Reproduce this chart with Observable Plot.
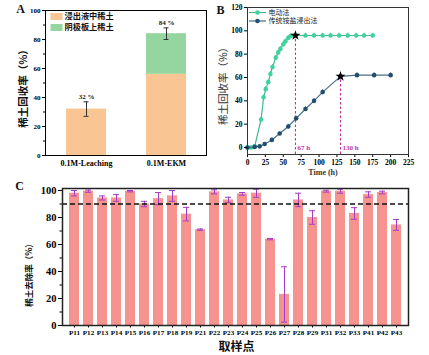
<!DOCTYPE html>
<html><head><meta charset="utf-8">
<script src="https://cdn.jsdelivr.net/npm/d3@7"></script>
<script src="https://cdn.jsdelivr.net/npm/@observablehq/plot@0.6"></script>
<style>
body{margin:0;background:#fff;}
#wrap{position:relative;width:429px;height:355px;overflow:hidden;background:#fff;}
</style></head><body><div id="wrap"></div>
<script>
// ---------- Panel A data ----------
const aCats = ["0.1M-Leaching", "0.1M-EKM"];
const aSeries = ["浸出液中稀土", "阴极板上稀土"];
const aLeachate = [32, 56];
const aCathode = [0, 28];
const aTotal = [32, 84];
const aErr = [5, 4];
const aTotalLabels = ["32 %", "84 %"];
const aTicks = [0, 20, 40, 60, 80, 100];
const aMinorTicks = [10, 30, 50, 70, 90];

// ---------- Panel B data ----------
const bSeries = ["电动法", "传统铵盐浸出法"];
const bEkTime = [0, 5, 10, 19, 22.5, 25.5, 29, 32, 35, 39.5, 43, 46, 50, 53, 57, 60.5, 67, 81, 93, 105, 116, 128, 140, 152, 163, 175];
const bEkRate = [0, 0, 1, 24, 43, 50, 56, 63, 69, 77, 81.5, 84.5, 88.5, 91, 94, 95.5, 96, 96, 96, 96, 96, 96, 96, 96, 96, 96];
const bEkErr  = [1, 1, 1, 2, 2, 2, 2, 2, 2, 2, 2, 2, 2, 2, 2, 2, 1, 2, 2, 2, 2, 2, 2, 2, 2, 2];
const bTrTime = [0, 10, 17, 24, 34, 45, 57, 68, 81, 93, 105, 130, 153, 177, 200];
const bTrRate = [0, 0.5, 1, 3, 6.5, 12, 18, 25, 33, 40, 47.5, 61, 62, 62, 62];
const bTrErr  = [1, 1, 1, 1, 1.5, 1.5, 2, 2, 2, 2, 2, 1, 2, 2, 2];
const bMarkTime = [67, 130];
const bMarkRate = [96, 61];
const bMarkLabels = ["67 h", "130 h"];
const bXTicks = [0, 25, 50, 75, 100, 125, 150, 175, 200, 225];
const bYTicks = [0, 20, 40, 60, 80, 100, 120];
const bYDomain = [-6, 120];

// ---------- Panel C data ----------
const cSites = ["P11","P12","P13","P14","P15","P16","P17","P18","P19","P21","P22","P23","P24","P25","P26","P27","P28","P29","P31","P32","P33","P41","P42","P43"];
const cRate = [98, 99.5, 94.5, 94.5, 99.5, 90, 94, 96, 82.5, 71, 99, 93, 97.5, 98, 64, 23, 93, 80, 99.5, 99.5, 83, 97, 98.5, 74.5];
const cErr  = [2, 0.8, 1.5, 2.5, 0.5, 2, 4.5, 4, 5, 0.5, 1.5, 2, 1, 3, 0.5, 20.5, 5, 5, 0.7, 1.5, 4.3, 2, 1, 4];
const cThreshold = 90;
const cTicks = [0, 20, 40, 60, 80, 100];
const cMinorTicks = [10, 30, 50, 70, 90];

const SERIF = "'Liberation Serif', 'DejaVu Serif', serif";
const CJK = "'Noto Sans CJK SC', 'Noto Sans', sans-serif";
const wrap = document.getElementById("wrap");
function place(svg, left, top) {
  svg.style.position = "absolute";
  svg.style.left = left + "px";
  svg.style.top = top + "px";
  wrap.appendChild(svg);
}
const baseStyle = {fontFamily: SERIF, fontSize: "8px", fontWeight: "bold", color: "black", background: "transparent", overflow: "visible"};
const rectSym = (w, h) => ({draw(ctx) { ctx.rect(-w / 2, -h / 2, w, h); }});
const hlineSym = (w) => ({draw(ctx) { ctx.moveTo(-w / 2, 0); ctx.lineTo(w / 2, 0); }});
const mid = {textAnchor: "middle", lineAnchor: "middle"};

// ---------- Panel A ----------
{
  const aColors = ["#f9c592", "#95d59f"];
  const rows = aCats.flatMap((c, i) => [
    {cat: c, series: aSeries[0], y1: 0, y2: aLeachate[i]},
    {cat: c, series: aSeries[1], y1: aLeachate[i], y2: aLeachate[i] + aCathode[i]}
  ]);
  const err = aCats.map((c, i) => ({cat: c, lo: aTotal[i] - aErr[i], hi: aTotal[i] + aErr[i], label: aTotalLabels[i]}));
  const svg = Plot.plot({
    width: 215, height: 175,
    marginLeft: 45, marginRight: 9, marginTop: 10, marginBottom: 20,
    style: baseStyle,
    x: {domain: aCats, paddingInner: 0.5, paddingOuter: 0.25, label: null},
    y: {domain: [0, 100], label: null},
    color: {domain: aSeries, range: aColors},
    marks: [
      Plot.barY(rows, {x: "cat", y1: "y1", y2: "y2", fill: "series"}),
      Plot.ruleX(err, {x: "cat", y1: "lo", y2: "hi", stroke: "#333", strokeWidth: 1}),
      Plot.tickY(err, {x: "cat", y: "lo", insetLeft: 17.5, insetRight: 17.5, stroke: "#333"}),
      Plot.tickY(err, {x: "cat", y: "hi", insetLeft: 17.5, insetRight: 17.5, stroke: "#333"}),
      Plot.text(err, {x: "cat", y: "hi", text: "label", dy: -5.5, fontSize: 7, fontFamily: SERIF, fontWeight: "bold", fill: "#222"}),
      Plot.axisY({ticks: aTicks, tickSize: 3, tickPadding: 2, fontSize: 7, label: null}),
      Plot.axisY({ticks: aMinorTicks, tickSize: 2, tickFormat: () => "", label: null}),
      Plot.axisX({tickSize: 0, tickPadding: 5, fontSize: 8, label: null}),
      Plot.frame({stroke: "black", strokeWidth: 1}),
      // legend
      Plot.dot(aSeries, {frameAnchor: "top-left", dx: 11, dy: 6, filter: (d, i) => i === 0, symbol: rectSym(12, 7), fill: aColors[0], stroke: "none"}),
      Plot.dot(aSeries, {frameAnchor: "top-left", dx: 11, dy: 17, filter: (d, i) => i === 1, symbol: rectSym(12, 7), fill: aColors[1], stroke: "none"}),
      Plot.text(aSeries, {frameAnchor: "top-left", dx: 19, dy: 6, filter: (d, i) => i === 0, text: d => d, textAnchor: "start", lineAnchor: "middle", fontFamily: CJK, fontWeight: "bold", fontSize: 8.2, fill: "#111"}),
      Plot.text(aSeries, {frameAnchor: "top-left", dx: 19, dy: 17, filter: (d, i) => i === 1, text: d => d, textAnchor: "start", lineAnchor: "middle", fontFamily: CJK, fontWeight: "bold", fontSize: 8.2, fill: "#111"}),
      // axis title and panel letter
      Plot.text(["稀土回收率（%）"], {frameAnchor: "left", dx: -22, dy: 3, rotate: -90, ...mid, text: d => d, fontFamily: CJK, fontWeight: "bold", fontSize: 10.5, fill: "#111"}),
      Plot.text(["A"], {frameAnchor: "top-left", dx: -25, dy: -1, ...mid, text: d => d, fontFamily: SERIF, fontWeight: "bold", fontSize: 12, fill: "#111"})
    ]
  });
  place(svg, 0, 0);
}

// ---------- Panel B ----------
{
  const ek = bEkTime.map((t, i) => ({t, v: bEkRate[i], e: bEkErr[i]}));
  const tr = bTrTime.map((t, i) => ({t, v: bTrRate[i], e: bTrErr[i]}));
  const marks = bMarkTime.map((t, i) => ({t, v: bMarkRate[i], label: bMarkLabels[i]}));
  const gLine = "#45b98d", gDot = "#3ed39d", tLine = "#47718c", tDot = "#234f6e", mag = "#c0369f";
  const svg = Plot.plot({
    width: 214, height: 180,
    marginLeft: 32, marginRight: 21, marginTop: 7, marginBottom: 26,
    style: baseStyle,
    x: {domain: [0, 225], label: null},
    y: {domain: bYDomain, label: null},
    marks: [
      Plot.ruleX(marks, {x: "t", y1: bYDomain[0], y2: "v", stroke: mag, strokeWidth: 1.1, strokeDasharray: "2.5,2"}),
      Plot.ruleX(ek, {x: "t", y1: d => d.v - d.e, y2: d => d.v + d.e, stroke: gLine, strokeWidth: 1}),
      Plot.line(ek, {x: "t", y: "v", stroke: gLine, strokeWidth: 1.2}),
      Plot.dot(ek, {x: "t", y: "v", r: 2.3, fill: gDot, stroke: "none"}),
      Plot.ruleX(tr, {x: "t", y1: d => d.v - d.e, y2: d => d.v + d.e, stroke: tLine, strokeWidth: 1}),
      Plot.line(tr, {x: "t", y: "v", stroke: tLine, strokeWidth: 1.2}),
      Plot.dot(tr, {x: "t", y: "v", r: 2.3, fill: tDot, stroke: "none"}),
      Plot.dot(marks, {x: "t", y: "v", symbol: "star", r: 3.2, fill: "black", stroke: "none"}),
      Plot.text(marks, {x: "t", y: 0, text: "label", dx: 2, textAnchor: "start", fill: mag, fontSize: 7, fontFamily: SERIF, fontWeight: "bold"}),
      Plot.axisX({ticks: bXTicks, tickSize: 3, tickPadding: 2, fontSize: 7.5, label: null}),
      Plot.axisY({ticks: bYTicks, tickSize: 3, tickPadding: 2, fontSize: 7.5, label: null}),
      Plot.frame({stroke: "#333", strokeWidth: 1}),
      // legend
      Plot.dot(bSeries, {frameAnchor: "top-left", dx: 10, dy: 5, filter: (d, i) => i === 0, symbol: hlineSym(17), fill: "none", stroke: gLine, strokeWidth: 1.2}),
      Plot.dot(bSeries, {frameAnchor: "top-left", dx: 10, dy: 5, filter: (d, i) => i === 0, r: 2.3, fill: gDot, stroke: "none"}),
      Plot.dot(bSeries, {frameAnchor: "top-left", dx: 10, dy: 13.5, filter: (d, i) => i === 1, symbol: hlineSym(17), fill: "none", stroke: tLine, strokeWidth: 1.2}),
      Plot.dot(bSeries, {frameAnchor: "top-left", dx: 10, dy: 13.5, filter: (d, i) => i === 1, r: 2.3, fill: tDot, stroke: "none"}),
      Plot.text(bSeries, {frameAnchor: "top-left", dx: 21, dy: 5, filter: (d, i) => i === 0, text: d => d, textAnchor: "start", lineAnchor: "middle", fontFamily: CJK, fontWeight: "normal", fontSize: 7, fill: "#222"}),
      Plot.text(bSeries, {frameAnchor: "top-left", dx: 21, dy: 13.5, filter: (d, i) => i === 1, text: d => d, textAnchor: "start", lineAnchor: "middle", fontFamily: CJK, fontWeight: "normal", fontSize: 7, fill: "#222"}),
      Plot.text(["Time (h)"], {frameAnchor: "bottom", dx: -5, dy: 18, ...mid, text: d => d, fontFamily: SERIF, fontWeight: "bold", fontSize: 8, fill: "#333"}),
      Plot.text(["稀土回收率（%）"], {frameAnchor: "left", dx: -24, dy: 2.5, rotate: -90, ...mid, text: d => d, fontFamily: CJK, fontWeight: "normal", fontSize: 10.5, fill: "#333"}),
      Plot.text(["B"], {frameAnchor: "top-left", dx: -27, dy: 3, ...mid, text: d => d, fontFamily: SERIF, fontWeight: "bold", fontSize: 12, fill: "#111"})
    ]
  });
  place(svg, 215, 0);
}

// ---------- Panel C ----------
{
  const rows = cSites.map((s, i) => ({site: s, v: cRate[i], lo: cRate[i] - cErr[i], hi: Math.min(cRate[i] + cErr[i], 101.5)}));
  const barColor = "#f6938f", errColor = "#a23cc6";
  const svg = Plot.plot({
    width: 429, height: 180,
    marginLeft: 62, marginRight: 21, marginTop: 13, marginBottom: 30,
    style: baseStyle,
    x: {domain: cSites, paddingInner: 0.3, paddingOuter: 0.3, label: null},
    y: {domain: [0, 101.5], label: null},
    marks: [
      Plot.barY(rows, {x: "site", y: "v", fill: barColor}),
      Plot.ruleX(rows, {x: "site", y1: "lo", y2: "hi", stroke: errColor, strokeWidth: 1}),
      Plot.tickY(rows, {x: "site", y: "lo", insetLeft: 2, insetRight: 2, stroke: errColor, strokeWidth: 1}),
      Plot.tickY(rows, {x: "site", y: "hi", insetLeft: 2, insetRight: 2, stroke: errColor, strokeWidth: 1}),
      Plot.ruleY([cThreshold], {stroke: "#111", strokeWidth: 1.3, strokeDasharray: "5,3"}),
      Plot.axisY({ticks: cTicks, tickSize: 4, tickPadding: 2, fontSize: 10.5, label: null}),
      Plot.axisY({ticks: cMinorTicks, tickSize: 2.5, tickFormat: () => "", label: null}),
      Plot.axisX({tickSize: 2.5, tickPadding: 1.5, fontSize: 7.1, label: null}),
      Plot.frame({stroke: "#222", strokeWidth: 1.5}),
      Plot.text(["取样点"], {frameAnchor: "bottom", dx: 1, dy: 22, ...mid, text: d => d, fontFamily: CJK, fontWeight: "bold", fontSize: 12, fill: "#111"}),
      Plot.text(["稀土去除率（%）"], {frameAnchor: "left", dx: -33, dy: 16, rotate: -90, ...mid, text: d => d, fontFamily: CJK, fontWeight: "bold", fontSize: 8.5, fill: "#111"}),
      Plot.text(["C"], {frameAnchor: "top-left", dx: -43, dy: -2, ...mid, text: d => d, fontFamily: SERIF, fontWeight: "bold", fontSize: 12, fill: "#111"})
    ]
  });
  place(svg, 0, 175);
}
</script></body></html>
